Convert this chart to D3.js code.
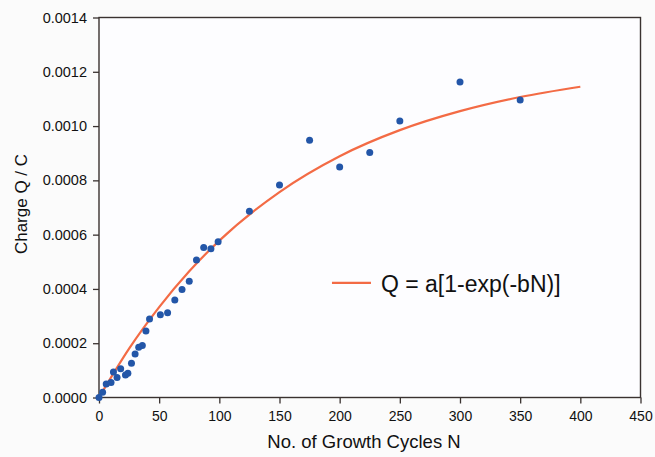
<!DOCTYPE html>
<html>
<head>
<meta charset="utf-8">
<script src="https://cdn.jsdelivr.net/npm/d3@7"></script>
<style>
	body { margin: 0; background: #fbfbfb; }
	text { font-family: "Liberation Sans", Arial, sans-serif; fill: #111; }
</style>
</head>
<body>
<div id="chart"></div>
<script>
// measured points (growth cycles, charge in C)
var cyclesN = [0, 3, 6, 10, 12, 15, 18, 22, 24, 27, 30, 33, 36, 39, 42, 51, 57, 63, 69, 75,
	81, 87, 93, 99, 125, 150, 175, 200, 225, 250, 300, 350];
var chargeQ = [0.0000, 0.000019, 0.000050, 0.000055, 0.000094, 0.000074, 0.000106, 0.000083,
	0.000089, 0.000126, 0.000160, 0.000185, 0.000192, 0.000245, 0.000289, 0.000305, 0.000312,
	0.000359, 0.000398, 0.000428, 0.000507, 0.000553, 0.000548, 0.000574, 0.000686, 0.000783,
	0.000948, 0.000849, 0.000903, 0.001019, 0.001162, 0.001096];

// fitted curve
var fitN = [0, 25, 50, 75, 100, 150, 200, 250, 300, 350, 400];
var fitQ = [0, 0.000180, 0.000333, 0.000465, 0.000578, 0.000757, 0.000889, 0.000985,
	0.001055, 0.001107, 0.001145];

var xTicks = [0, 50, 100, 150, 200, 250, 300, 350, 400, 450];
var yTicks = [0, 0.0002, 0.0004, 0.0006, 0.0008, 0.0010, 0.0012, 0.0014];
var legendLabel = "Q = a[1-exp(-bN)]";

var width = 655, height = 457;
var margin = {top: 17.5, right: 14.5, bottom: 59.5, left: 99};
var w = width - margin.left - margin.right;
var h = height - margin.top - margin.bottom;

var svg = d3.select("#chart").append("svg")
	.attr("width", width)
	.attr("height", height);

var g = svg.append("g")
	.attr("transform", "translate(" + margin.left + "," + margin.top + ")");

var x = d3.scaleLinear().domain([0, 450]).range([0, w]);
var y = d3.scaleLinear().domain([0, 0.0014]).range([h, 0]);

g.append("rect")
	.attr("width", w)
	.attr("height", h)
	.style("fill", "#fdfdff");

// axes
var axisColor = "#3a3230";

g.append("g")
	.attr("transform", "translate(0," + h + ")")
	.call(d3.axisBottom(x).tickValues(xTicks).tickSize(6).tickPadding(8))
	.call(function(a) {
		a.select(".domain").remove();
		a.selectAll("line").style("stroke", axisColor).style("stroke-width", 1.3);
		a.selectAll("text").style("font-size", "14px").style("fill", "#111");
	});

g.append("g")
	.call(d3.axisLeft(y).tickValues(yTicks).tickFormat(d3.format(".4f")).tickSize(6).tickPadding(6))
	.call(function(a) {
		a.select(".domain").remove();
		a.selectAll("line").style("stroke", axisColor).style("stroke-width", 1.3);
		a.selectAll("text").style("font-size", "14.5px").style("fill", "#111");
	});

g.append("rect")
	.attr("width", w)
	.attr("height", h)
	.style("fill", "none")
	.style("stroke", axisColor)
	.style("stroke-width", 1.4);

// fitted curve
var line = d3.line()
	.x(function(d) { return x(d[0]); })
	.y(function(d) { return y(d[1]); })
	.curve(d3.curveMonotoneX);

g.append("path")
	.datum(fitN.map(function(n, i) { return [n, fitQ[i]]; }))
	.attr("d", line)
	.style("fill", "none")
	.style("stroke", "#f36b45")
	.style("stroke-width", 2.2);

// data points
g.selectAll(".dot")
	.data(cyclesN.map(function(n, i) { return [n, chargeQ[i]]; }))
	.enter().append("circle")
		.attr("class", "dot")
		.attr("cx", function(d) { return x(d[0]); })
		.attr("cy", function(d) { return y(d[1]); })
		.attr("r", 3.5)
		.style("fill", "#2356a8");

// legend
var legend = g.append("g")
	.attr("transform", "translate(" + (x(193.6)) + "," + (y(0.000422)) + ")");

legend.append("line")
	.attr("x1", 0)
	.attr("x2", 39)
	.style("stroke", "#f36b45")
	.style("stroke-width", 2.2);

legend.append("text")
	.attr("x", 49)
	.attr("y", 9)
	.style("font-size", "23px")
	.text(legendLabel);

// axis titles
svg.append("text")
	.attr("x", 364)
	.attr("y", 447.5)
	.style("text-anchor", "middle")
	.style("font-size", "18.5px")
	.text("No. of Growth Cycles N");

svg.append("text")
	.attr("transform", "translate(26.5,204) rotate(-90)")
	.style("text-anchor", "middle")
	.style("font-size", "17px")
	.text("Charge Q / C");
</script>
</body>
</html>
